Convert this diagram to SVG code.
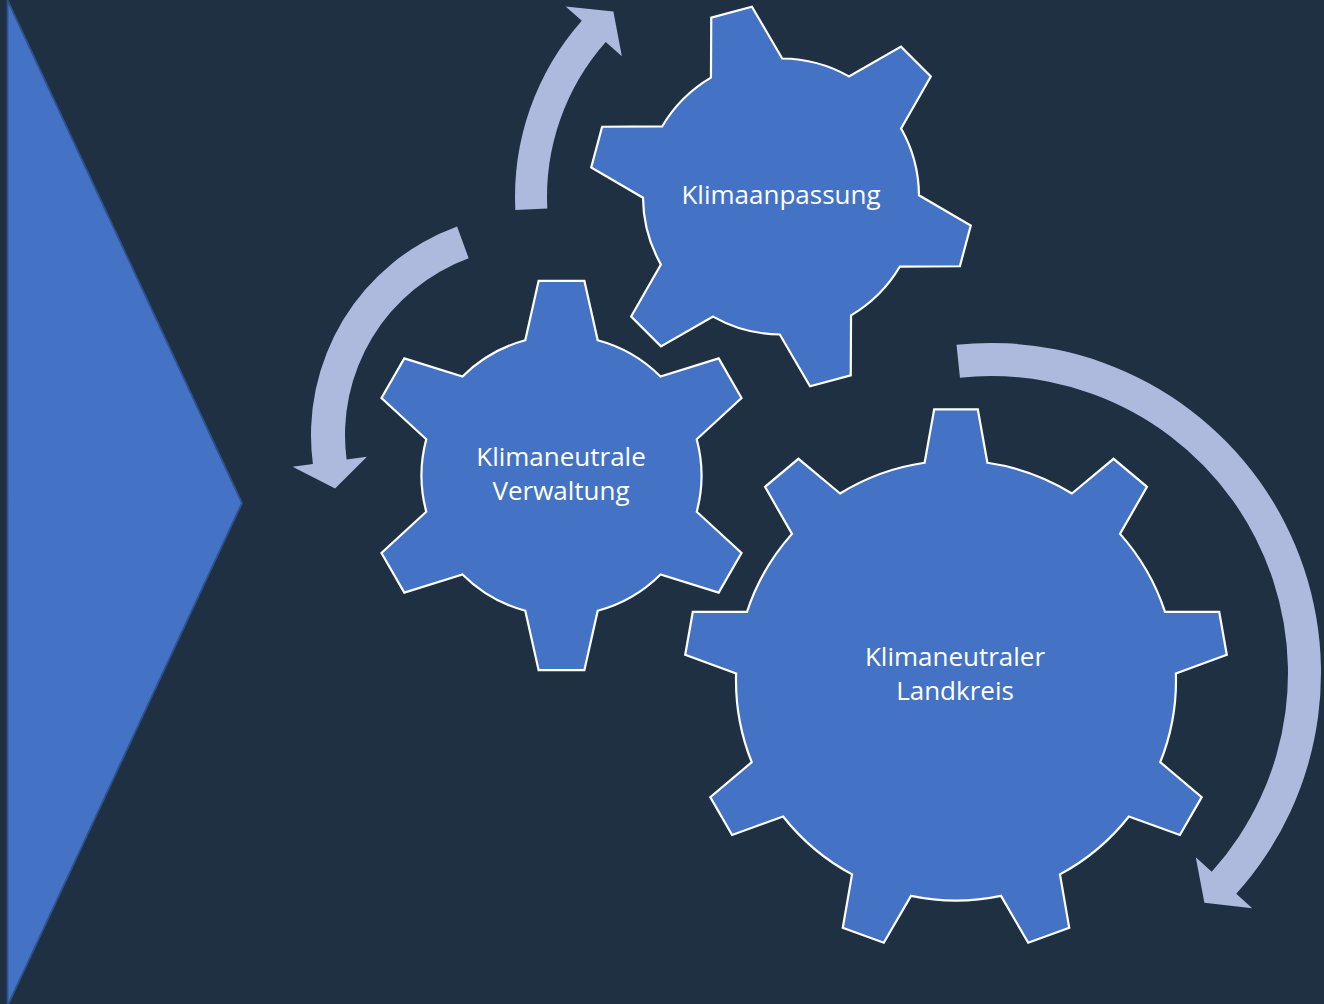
<svg xmlns="http://www.w3.org/2000/svg" width="1324" height="1004" viewBox="0 0 1324 1004">
<style>
.gear{fill:#4472C4;stroke:#FFFFFF;stroke-width:2.2;stroke-linejoin:miter}
.arrow{fill:#AEBADD;stroke:none}
.lbl{font-family:"Open Sans","Noto Sans","Liberation Sans",sans-serif;font-size:26px;fill:#FFFFFF;text-anchor:middle}
</style>
<rect x="0" y="0" width="1324" height="1004" fill="#1F3042"/>
<g id="chevron">
<polygon points="7.5,0 242,503 7.5,1006" fill="#4472C4" stroke="#2F528F" stroke-width="1.8"/>
</g>
<g id="connectors">
<path class="arrow" d="M 515.32 209.99 A 266 266 0 0 1 581.78 20.74 L 565.67 6.50 L 613.39 11.50 L 621.85 56.19 L 605.74 41.95 A 234 234 0 0 0 547.28 208.43 Z"/>
<path class="arrow" d="M 457.07 226.39 A 222 222 0 0 0 312.90 463.98 L 292.58 466.65 L 335.08 488.40 L 366.93 456.86 L 346.61 459.54 A 188 188 0 0 1 468.70 258.34 Z"/>
<path class="arrow" d="M 956.51 344.81 A 330 330 0 0 1 1236.24 893.81 L 1252.21 908.20 L 1204.41 902.65 L 1195.74 857.35 L 1211.71 871.73 A 297 297 0 0 0 959.95 377.63 Z"/>
</g>
<g id="gear-verwaltung">
<path class="gear" d="M 525.27 340.27 L 538.63 280.84 L 584.37 280.84 L 597.73 340.27 A 140 140 0 0 1 660.49 376.51 L 718.69 358.36 L 741.52 397.97 L 696.73 439.27 A 140 140 0 0 1 696.73 511.73 L 741.52 553.03 L 718.69 592.64 L 660.49 574.49 A 140 140 0 0 1 597.73 610.73 L 584.37 670.16 L 538.63 670.16 L 525.27 610.73 A 140 140 0 0 1 462.51 574.49 L 404.31 592.64 L 381.48 553.03 L 426.27 511.73 A 140 140 0 0 1 426.27 439.27 L 381.48 397.97 L 404.31 358.36 L 462.51 376.51 A 140 140 0 0 1 525.27 340.27 Z"/>
<text class="lbl" x="561" y="466">Klimaneutrale</text>
<text class="lbl" x="561" y="500">Verwaltung</text>
</g>
<g id="gear-anpassung">
<path class="gear" d="M 710.96 77.60 L 711.26 17.62 L 751.96 6.71 L 782.20 58.50 A 138 138 0 0 1 848.95 76.39 L 901.05 46.66 L 930.84 76.45 L 901.11 128.55 A 138 138 0 0 1 918.99 195.30 L 970.79 225.54 L 959.88 266.24 L 899.90 266.54 A 138 138 0 0 1 851.04 315.40 L 850.74 375.38 L 810.04 386.29 L 779.80 334.50 A 138 138 0 0 1 713.05 316.61 L 660.95 346.34 L 631.16 316.55 L 660.89 264.45 A 138 138 0 0 1 643.01 197.70 L 591.21 167.46 L 602.12 126.76 L 662.10 126.46 A 138 138 0 0 1 710.96 77.60 Z"/>
<text class="lbl" x="781" y="204">Klimaanpassung</text>
</g>
<g id="gear-landkreis">
<path class="gear" d="M 924.62 462.75 L 934.19 409.38 L 977.81 409.38 L 987.38 462.75 A 220 220 0 0 1 1071.93 493.52 L 1113.56 458.80 L 1146.98 486.83 L 1120.01 533.86 A 220 220 0 0 1 1164.99 611.79 L 1219.22 611.94 L 1226.79 654.90 L 1175.89 673.59 A 220 220 0 0 1 1160.27 762.20 L 1201.71 797.17 L 1179.89 834.95 L 1128.90 816.55 A 220 220 0 0 1 1059.96 874.39 L 1069.23 927.81 L 1028.23 942.74 L 1000.99 895.85 A 220 220 0 0 1 911.01 895.85 L 883.77 942.74 L 842.77 927.81 L 852.04 874.39 A 220 220 0 0 1 783.10 816.55 L 732.11 834.95 L 710.29 797.17 L 751.73 762.20 A 220 220 0 0 1 736.11 673.59 L 685.21 654.90 L 692.78 611.94 L 747.01 611.79 A 220 220 0 0 1 791.99 533.86 L 765.02 486.83 L 798.44 458.80 L 840.07 493.52 A 220 220 0 0 1 924.62 462.75 Z"/>
<text class="lbl" x="955" y="666">Klimaneutraler</text>
<text class="lbl" x="955" y="700">Landkreis</text>
</g>
</svg>
